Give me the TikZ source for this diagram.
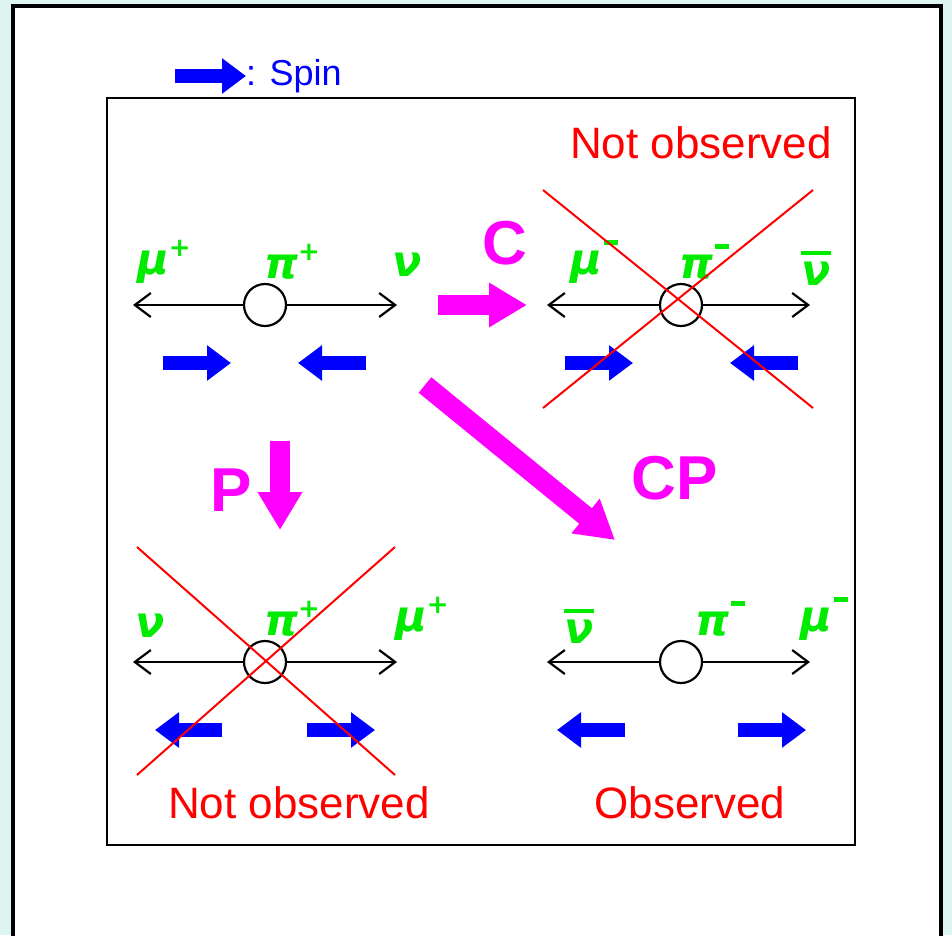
\documentclass[tikz,border=0pt]{standalone}
\usepackage{fontspec}
\setmainfont{Liberation Sans}
\newfontfamily\greekfont{DejaVu Sans}
\usetikzlibrary{arrows.meta}

\definecolor{bgcyan}{RGB}{221,245,240}
\definecolor{pgreen}{RGB}{0,235,0}
\definecolor{opmagenta}{RGB}{255,0,255}
\definecolor{spinblue}{RGB}{0,0,255}
\definecolor{vetored}{RGB}{255,0,0}

\newcommand\chplus{\raisebox{18pt}{\fontsize{26}{26}\selectfont\bfseries +}}
\newcommand\chminus{\hspace{2pt}\raisebox{30pt}{\rule{14pt}{4.5pt}}}
\newcommand\barred[1]{\setbox0\hbox{#1}\rlap{\raisebox{\dimexpr\ht0+7pt\relax}{\rule{\wd0}{4.5pt}}}\box0}

\tikzset{
  axis/.style={line width=2.2pt,-{Straight Barb[length=16pt,width=24pt]}},
  pion/.style={circle,draw,line width=2.2pt,minimum size=42pt,inner sep=0pt},
  spin/.style={spinblue,line width=14pt,-{Triangle[length=24pt,width=34pt]}},
  oparrow/.style={opmagenta,line width=20pt,-{Triangle[length=38pt,width=42pt]}},
  veto/.style={vetored,line width=2pt},
  particle/.style={pgreen,inner sep=0pt,font=\greekfont\bfseries\itshape\fontsize{43}{43}\selectfont},
  oplabel/.style={opmagenta,inner sep=0pt,font=\bfseries\fontsize{62}{62}\selectfont},
  verdict/.style={vetored,inner sep=0pt,font=\fontsize{44}{44}\selectfont},
  legend/.style={spinblue,inner sep=0pt,font=\fontsize{36}{36}\selectfont}
}

\begin{document}
\begin{tikzpicture}[x=1pt,y=-1pt]
  \useasboundingbox (0,0) rectangle (952,935);
  \clip (0,0) rectangle (952,935);
  \fill[bgcyan] (0,0) rectangle (952,935);
  \draw[line width=3.5pt,fill=white] (13,6) rectangle (941,960);
  \draw[line width=2.5pt] (107,98) rectangle (855,845);

  \coordinate (keytail) at (175,76);
  \node[legend,anchor=west] (key) at (246,76) {: Spin};
  \draw[spin] (keytail) -- (key.west);

  \node[pion] (piTL) at (265,305) {};
  \coordinate (lTL) at (133,305);
  \coordinate (rTL) at (397,305);
  \draw[axis] (piTL) -- (lTL);
  \draw[axis] (piTL) -- (rTL);
  \node[particle] (muTL) at (164,262) {μ\chplus};
  \node[particle] (pnTL) at (292,262) {π\chplus};
  \node[particle] (nuTL) at (407,265) {ν};
  \coordinate (sa1) at (163,363); \coordinate (sa2) at (231,363);
  \coordinate (sb1) at (366,363); \coordinate (sb2) at (298,363);
  \draw[spin] (sa1) -- (sa2);
  \draw[spin] (sb1) -- (sb2);

  \node[pion] (piTR) at (681,305) {};
  \coordinate (lTR) at (547,305);
  \coordinate (rTR) at (810,305);
  \draw[axis] (piTR) -- (lTR);
  \draw[axis] (piTR) -- (rTR);
  \node[particle] (muTR) at (594,262) {μ\chminus};
  \node[particle] (pnTR) at (704,262) {π\chminus};
  \node[particle] (nuTR) at (816,268) {\barred{ν}};
  \coordinate (sc1) at (565,363); \coordinate (sc2) at (633,363);
  \coordinate (sd1) at (798,363); \coordinate (sd2) at (730,363);
  \draw[spin] (sc1) -- (sc2);
  \draw[spin] (sd1) -- (sd2);
  \coordinate (xa) at (543,190); \coordinate (xb) at (813,408);
  \coordinate (xc) at (543,408); \coordinate (xd) at (813,190);
  \draw[veto] (xa) -- (xb);
  \draw[veto] (xc) -- (xd);

  \node[pion] (piBL) at (265,662) {};
  \coordinate (lBL) at (133,662);
  \coordinate (rBL) at (397,662);
  \draw[axis] (piBL) -- (lBL);
  \draw[axis] (piBL) -- (rBL);
  \node[particle] (nuBL) at (150,626) {ν};
  \node[particle] (pnBL) at (292,619) {π\chplus};
  \node[particle] (muBL) at (422,619) {μ\chplus};
  \coordinate (se1) at (222,730); \coordinate (se2) at (155,730);
  \coordinate (sf1) at (307,730); \coordinate (sf2) at (375,730);
  \draw[spin] (se1) -- (se2);
  \draw[spin] (sf1) -- (sf2);
  \coordinate (ya) at (137,547); \coordinate (yb) at (395,775);
  \coordinate (yc) at (137,775); \coordinate (yd) at (395,547);
  \draw[veto] (ya) -- (yb);
  \draw[veto] (yc) -- (yd);

  \node[pion] (piBR) at (681,662) {};
  \coordinate (lBR) at (547,662);
  \coordinate (rBR) at (810,662);
  \draw[axis] (piBR) -- (lBR);
  \draw[axis] (piBR) -- (rBR);
  \node[particle] (nuBR) at (579,626) {\barred{ν}};
  \node[particle] (pnBR) at (720,619) {π\chminus};
  \node[particle] (muBR) at (824,619) {μ\chminus};
  \coordinate (sg1) at (625,730); \coordinate (sg2) at (557,730);
  \coordinate (sh1) at (738,730); \coordinate (sh2) at (806,730);
  \draw[spin] (sg1) -- (sg2);
  \draw[spin] (sh1) -- (sh2);

  \coordinate (cfrom) at (438,305); \coordinate (cto) at (527,305);
  \draw[oparrow] (cfrom) -- (cto);
  \node[oplabel] (cC) at (505,243) {C};
  \coordinate (pfrom) at (280,441); \coordinate (pto) at (280,530);
  \draw[oparrow] (pfrom) -- (pto);
  \node[oplabel] (cP) at (231,490) {P};
  \coordinate (cpfrom) at (425,385); \coordinate (cpto) at (615,540);
  \draw[oparrow] (cpfrom) -- (cpto);
  \node[oplabel] (cCP) at (675,478) {CP};

  \node[verdict] (noTR) at (701,143) {Not observed};
  \node[verdict] (noBL) at (299,803) {Not observed};
  \node[verdict] (okBR) at (690,803) {Observed};
\end{tikzpicture}
\end{document}
